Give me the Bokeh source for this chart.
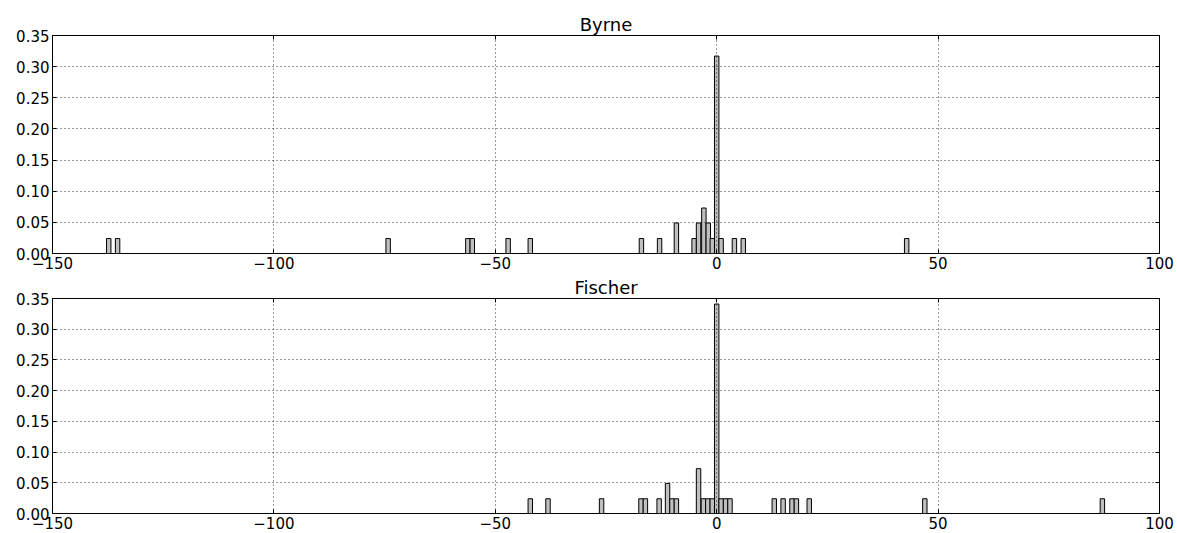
from bokeh.plotting import figure
from bokeh.layouts import column
from bokeh.models import (Range1d, FixedTicker, LinearAxis, NumeralTickFormatter, Title)
from bokeh.embed import file_html
from bokeh.resources import INLINE

# ---- data (bin centres and normalised heights) ----
byrne_centers = [-137.3, -135.3, -74.2, -56.2, -55.2, -47.1, -42.1, -17.0, -12.9,
                 -9.1, -5.1, -4.1, -2.9, -1.9, -1.0, 0.0, 1.0, 4.0, 6.0, 42.9]
byrne_heights = [0.024, 0.024, 0.024, 0.024, 0.024, 0.024, 0.024, 0.024, 0.024,
                 0.049, 0.024, 0.049, 0.073, 0.049, 0.024, 0.317, 0.024, 0.024, 0.024, 0.024]

fischer_centers = [-42.1, -38.1, -26.0, -17.1, -16.1, -13.0, -11.1, -10.1, -9.1,
                   -4.1, -3.0, -2.0, -1.0, 0.0, 1.0, 2.0, 3.0,
                   13.0, 15.0, 17.0, 18.0, 20.9, 47.0, 87.1]
fischer_heights = [0.024, 0.024, 0.024, 0.024, 0.024, 0.024, 0.049, 0.024, 0.024,
                   0.073, 0.024, 0.024, 0.024, 0.341, 0.024, 0.024, 0.024,
                   0.024, 0.024, 0.024, 0.024, 0.024, 0.024, 0.024]

bin_width = 1.0

x_ticks = [-150, -100, -50, 0, 50, 100]
x_tick_labels = ["\u2212150", "\u2212100", "\u221250", "0", "50", "100"]
y_ticks = [0.0, 0.05, 0.10, 0.15, 0.20, 0.25, 0.30, 0.35]

titles = ["Byrne", "Fischer"]

FONT = "DejaVu Sans"


def make_panel(title, centers, heights, height, top_border, bottom_border):
    p = figure(width=1177, height=height, output_backend="svg", toolbar_location=None,
               x_range=Range1d(-150, 100), y_range=Range1d(0, 0.35),
               min_border_left=52, min_border_right=18,
               min_border_top=top_border, min_border_bottom=bottom_border,
               background_fill_color="white", border_fill_color="white")
    p.title = Title(text=title, align="center", text_font=FONT, text_font_size="18px",
                    text_font_style="normal", text_color="black", standoff=1, offset=0)
    p.outline_line_color = "black"
    p.outline_line_width = 1
    p.outline_line_alpha = 1

    p.vbar(x=centers, top=heights, width=bin_width, bottom=0,
           fill_color="#bfbfbf", line_color="black", line_width=1)

    xt = FixedTicker(ticks=x_ticks)
    yt = FixedTicker(ticks=y_ticks)
    overrides = dict(zip(x_ticks, x_tick_labels))

    bottom_ax = p.below[0]
    left_ax = p.left[0]
    bottom_ax.ticker = xt
    bottom_ax.major_label_overrides = overrides
    left_ax.ticker = yt
    left_ax.formatter = NumeralTickFormatter(format="0.00")

    top_ax = LinearAxis(ticker=xt, major_label_text_font_size="1px",
                        major_label_text_color=None, major_label_standoff=0)
    right_ax = LinearAxis(ticker=yt, major_label_text_font_size="1px",
                          major_label_text_color=None, major_label_standoff=0)
    p.add_layout(top_ax, "above")
    p.add_layout(right_ax, "right")

    for ax in [bottom_ax, left_ax, top_ax, right_ax]:
        ax.axis_line_color = None
        ax.major_tick_in = 4
        ax.major_tick_out = 0
        ax.major_tick_line_color = "black"
        ax.minor_tick_line_color = None
        ax.major_label_text_font = FONT
    for ax in [bottom_ax, left_ax]:
        ax.major_label_text_font_size = "15px"
        ax.major_label_text_color = "black"
        ax.major_label_standoff = 3

    for g in [p.xgrid[0], p.ygrid[0]]:
        g.grid_line_color = "black"
        g.grid_line_dash = "1 3"
        g.grid_line_width = 1
        g.grid_line_alpha = 0.8
        g.level = "overlay"
    p.xgrid[0].ticker = xt
    p.ygrid[0].ticker = yt
    return p


p1 = make_panel(titles[0], byrne_centers, byrne_heights, 274, 35, 21)
p2 = make_panel(titles[1], fischer_centers, fischer_heights, 259, 24, 20)

layout = column(p1, p2, spacing=0)

open("out.html", "w").write(file_html(layout, INLINE))
